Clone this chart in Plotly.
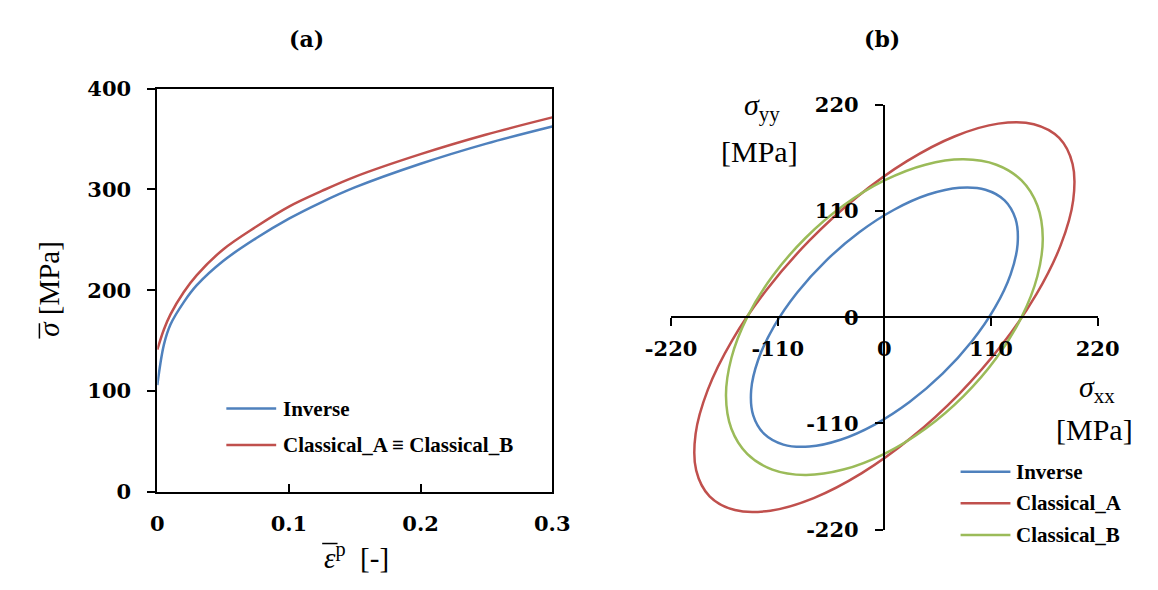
import plotly.graph_objects as go

W, H = 1158, 590

# ---------------- (a) flow curves ----------------
strain = [0, 0.005, 0.01, 0.02, 0.03, 0.05, 0.075, 0.1, 0.125, 0.15, 0.2, 0.25, 0.3]
stress_inverse = [106, 146, 166, 188, 205, 229, 251.5, 271, 287.5, 302, 325.5, 345.5, 362.5]
stress_classical = [141, 161, 176, 198, 215, 240.5, 263, 283, 298.5, 312.5, 335, 354.5, 371.5]
strain_ticks = [0, 0.1, 0.2, 0.3]
strain_ticktext = ["0", "0.1", "0.2", "0.3"]
stress_ticks = [0, 100, 200, 300, 400]

# ---------------- (b) yield loci in the (sigma_xx, sigma_yy) plane ----------------
inverse_sxx = [-60.06, -90.10, -114.00, -130.14, -137.40, -135.29, -123.98, -104.21, -77.34, -45.20, -9.98,
               25.92, 60.06, 90.10, 114.00, 130.14, 137.40, 135.29, 123.98, 104.21, 77.34, 45.20, 9.98,
               -25.92, -60.06]
inverse_syy = [58.58, 25.29, -9.73, -44.08, -75.42, -101.63, -120.91, -131.95, -134.00, -126.92, -111.19,
               -87.87, -58.58, -25.29, 9.73, 44.08, 75.42, 101.63, 120.91, 131.95, 134.00, 126.92, 111.19,
               87.87, 58.58]

classical_a_sxx = [-77.2, -121.23, -157.01, -182.08, -194.74, -194.13, -180.3, -154.17, -117.54, -72.90, -23.29,
                   27.91, 77.2, 121.23, 157.01, 182.08, 194.74, 194.13, 180.3, 154.17, 117.54, 72.90, 23.29,
                   -27.91, -77.2]
classical_a_syy = [79.4, 28.68, -23.99, -75.03, -120.94, -158.62, -185.5, -199.72, -200.34, -187.31, -161.51,
                   -124.70, -79.4, -28.68, 23.99, 75.03, 120.94, 158.62, 185.5, 199.72, 200.34, 187.31, 161.51,
                   124.70, 79.4]

classical_b_sxx = [-81.67, -115.51, -141.5, -157.81, -163.38, -157.81, -141.5, -115.53, -81.70, -42.31, 0.0,
                   42.27, 81.67, 115.51, 141.5, 157.81, 163.38, 157.81, 141.5, 115.53, 81.70, 42.31, 0.0,
                   -42.27, -81.67]
classical_b_syy = [81.67, 42.27, 0.0, -42.31, -81.70, -115.53, -141.5, -157.81, -163.38, -157.81, -141.5,
                   -115.51, -81.67, -42.27, 0.0, 42.31, 81.70, 115.53, 141.5, 157.81, 163.38, 157.81, 141.5,
                   115.51, 81.67]

stress_b_ticks = [-220, -110, 0, 110, 220]
stress_b_ticktext = ["-220", "-110", "0", "110", "220"]

BLUE, RED, GREEN = "#4F81BD", "#C0504D", "#9BBB59"
NUM_FONT = dict(family="DejaVu Serif", size=21, color="black", weight="bold")
LEG_FONT = dict(family="Liberation Serif", size=21, color="black", weight="bold")
LAB_FONT = dict(family="Liberation Serif", size=29, color="black")
LAB_FONT_B = dict(family="Liberation Serif", size=30, color="black")
TITLE_FONT = dict(family="DejaVu Serif", size=22, color="black", weight="bold")


def px(x):
    return x / W


def py(y):
    return 1 - y / H


fig = go.Figure()

fig.add_trace(go.Scatter(x=strain, y=stress_inverse, mode="lines", name="Inverse",
                         line=dict(color=BLUE, width=2.5, shape="spline"), xaxis="x", yaxis="y"))
fig.add_trace(go.Scatter(x=strain, y=stress_classical, mode="lines", name="Classical_A ≡ Classical_B",
                         line=dict(color=RED, width=2.5, shape="spline"), xaxis="x", yaxis="y"))

for sx, sy, col, nm in [(inverse_sxx, inverse_syy, BLUE, "Inverse"),
                        (classical_a_sxx, classical_a_syy, RED, "Classical_A"),
                        (classical_b_sxx, classical_b_syy, GREEN, "Classical_B")]:
    fig.add_trace(go.Scatter(x=sx, y=sy, mode="lines", name=nm,
                             line=dict(color=col, width=2.5, shape="spline"), xaxis="x2", yaxis="y2"))

axis_common = dict(showgrid=False, zeroline=False, linecolor="black", linewidth=2,
                   tickcolor="black", tickwidth=2, ticklen=8, tickfont=NUM_FONT)

fig.update_layout(
    autosize=True,
    margin=dict(l=0, r=0, t=0, b=0),
    paper_bgcolor="white", plot_bgcolor="white",
    showlegend=False,
    xaxis=dict(domain=[px(137), px(549)], range=[0, 0.3], anchor="y", showline=True, mirror=True,
               ticks="inside", tickvals=strain_ticks, ticktext=strain_ticktext,
               ticklabelstandoff=12, **axis_common),
    yaxis=dict(domain=[py(500), py(79)], range=[0, 400], anchor="x", showline=True, mirror=True,
               ticks="outside", tickvals=stress_ticks, ticklabelstandoff=12, **axis_common),
    xaxis2=dict(domain=[px(673), px(1118)], range=[-220, 220], anchor="free", position=py(317.5),
                showline=True, ticks="outside", tickvals=stress_b_ticks, ticktext=stress_b_ticktext,
                ticklabelstandoff=5, **axis_common),
    yaxis2=dict(domain=[py(539.5), py(95.7)], range=[-220, 220], anchor="free", position=px(895),
                showline=True, ticks="outside", tickvals=stress_b_ticks, ticktext=stress_b_ticktext,
                ticklabelstandoff=12, **axis_common),
    xaxis3=dict(overlaying="x2", range=[-220, 220], anchor="free", position=py(317.5), showline=False,
                ticks="inside", tickvals=stress_b_ticks, showticklabels=False, **axis_common),
    yaxis3=dict(overlaying="y2", range=[-220, 220], anchor="free", position=px(895), showline=False,
                ticks="inside", tickvals=stress_b_ticks, showticklabels=False, **axis_common),
)

ann = []
shapes = []
# panel titles
ann.append(dict(x=px(293), y=py(27), text="(a)", font=TITLE_FONT))
ann.append(dict(x=px(893), y=py(27), text="(b)", font=TITLE_FONT))
# axis titles (a)
ann.append(dict(x=px(24), y=py(288), text="<i>σ</i> [MPa]", textangle=-90, font=LAB_FONT))
ann.append(dict(x=px(345), y=py(567), text="<i>ε</i><sup>p</sup>  [-]", font=LAB_FONT))
# overbars on the equivalent quantities
shapes.append(dict(type="line", xref="paper", yref="paper", x0=px(14), x1=px(14), y0=py(324), y1=py(340),
                   line=dict(color="black", width=1.5)))
shapes.append(dict(type="line", xref="paper", yref="paper", x0=px(309), x1=px(325), y0=py(554), y1=py(554),
                   line=dict(color="black", width=1.5)))
# axis titles (b)
ann.append(dict(x=px(768), y=py(98), text="<i>σ</i><sub>yy</sub>", font=LAB_FONT_B))
ann.append(dict(x=px(765), y=py(145), text="[MPa]", font=LAB_FONT_B))
ann.append(dict(x=px(1117), y=py(393), text="<i>σ</i><sub>xx</sub>", font=LAB_FONT_B))
ann.append(dict(x=px(1115), y=py(435), text="[MPa]", font=LAB_FONT_B))

# legend (a)
for yy, col, label in [(413, BLUE, "Inverse"), (451, RED, "Classical_A ≡ Classical_B")]:
    shapes.append(dict(type="line", xref="paper", yref="paper", x0=px(209), x1=px(261), y0=py(yy), y1=py(yy),
                       line=dict(color=col, width=2.5)))
    ann.append(dict(x=px(266), y=py(yy), text=label, xanchor="left", font=LEG_FONT))
# legend (b)
for yy, col, label in [(479, BLUE, "Inverse"), (512, RED, "Classical_A"), (545, GREEN, "Classical_B")]:
    shapes.append(dict(type="line", xref="paper", yref="paper", x0=px(975), x1=px(1027), y0=py(yy), y1=py(yy),
                       line=dict(color=col, width=2.5)))
    ann.append(dict(x=px(1031), y=py(yy), text=label, xanchor="left", font=LEG_FONT))

for a in ann:
    a.setdefault("xref", "paper")
    a.setdefault("yref", "paper")
    a.setdefault("showarrow", False)
    a.setdefault("xanchor", "center")
    a.setdefault("yanchor", "middle")

fig.update_layout(annotations=ann, shapes=shapes)
fig.write_html("out.html")
